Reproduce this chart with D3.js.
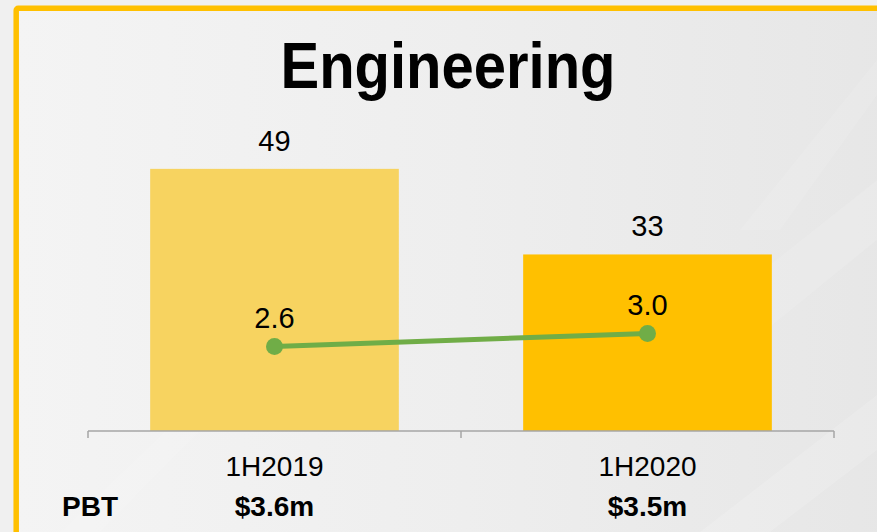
<!DOCTYPE html>
<html><head><meta charset="utf-8">
<script src="https://cdn.jsdelivr.net/npm/d3@7"></script>
<style>html,body{margin:0;padding:0;background:#F0F0F0;}svg{display:block;}</style>
</head><body>
<script>
const categories = ["1H2019", "1H2020"];
const barValues = [49, 33];
const lineValues = [2.6, 3.0];
const barLabels = ["49", "33"];
const lineLabels = ["2.6", "3.0"];
const pbtLabels = ["$3.6m", "$3.5m"];
const title = "Engineering";
const rowLabel = "PBT";

const W = 877, H = 532;
const svg = d3.select("body").append("svg").attr("width", W).attr("height", H);
const defs = svg.append("defs");
const grad = defs.append("linearGradient").attr("id", "bg").attr("x1", 0).attr("x2", 1).attr("y1", 0).attr("y2", 0);
grad.append("stop").attr("offset", 0).attr("stop-color", "#F4F4F4");
grad.append("stop").attr("offset", 0.5).attr("stop-color", "#EEEEEE");
grad.append("stop").attr("offset", 1).attr("stop-color", "#E6E6E6");

svg.append("rect").attr("width", W).attr("height", H).attr("fill", "#F0F0F0");
svg.append("rect").attr("x", 16).attr("y", 8).attr("width", W + 20).attr("height", H + 20).attr("fill", "url(#bg)");
// subtle diagonal light bands
const bands = svg.append("g").attr("fill", "#FFFFFF");
bands.append("path").attr("d", "M560,432 L877,180 L877,240 L640,432 Z").attr("opacity", 0.12);
bands.append("path").attr("d", "M700,532 L877,395 L877,450 L770,532 Z").attr("opacity", 0.15);
bands.append("path").attr("d", "M740,230 L877,60 L877,95 L780,230 Z").attr("opacity", 0.1);
bands.append("path").attr("d", "M60,532 L270,330 L300,330 L100,532 Z").attr("opacity", 0.08);

// border
svg.append("rect").attr("x", 16.2).attr("y", 8.3).attr("width", W + 20).attr("height", H + 20)
  .attr("rx", 2).attr("fill", "none").attr("stroke", "#FFC000").attr("stroke-width", 5.5);

const font = "'Liberation Sans', Arial, sans-serif";

const x = d3.scaleBand().domain(categories).range([88, 834]).paddingInner(1/3).paddingOuter(1/6);
const y = d3.scaleLinear().domain([0, 60]).range([431, 110]);
const y2 = d3.scaleLinear().domain([0, 10]).range([431, 106]);
const colors = ["#F7D360", "#FFC000"];

// title
svg.append("text").attr("transform", "translate(448,88) scale(1,1.13)")
  .attr("text-anchor", "middle").attr("font-family", font).attr("font-weight", "bold")
  .attr("font-size", 58).attr("fill", "#000").text(title);

// bars
svg.selectAll("rect.bar").data(categories).join("rect").attr("class", "bar")
  .attr("x", d => x(d)).attr("width", x.bandwidth())
  .attr("y", (d, i) => y(barValues[i])).attr("height", (d, i) => y(0) - y(barValues[i]))
  .attr("fill", (d, i) => colors[i]);

// axis
const step = x.step();
const x0 = x(categories[0]) - step * x.paddingOuter();
const bounds = d3.range(categories.length + 1).map(i => x0 + i * step);
const axis = svg.append("g").attr("stroke", "#A6A6A6").attr("stroke-width", 1.5).attr("fill", "none");
axis.append("line").attr("x1", bounds[0]).attr("x2", bounds[bounds.length - 1]).attr("y1", y(0)).attr("y2", y(0));
axis.selectAll("line.tick").data(bounds).join("line").attr("class", "tick")
  .attr("x1", d => d).attr("x2", d => d).attr("y1", y(0)).attr("y2", y(0) + 7);

const cx = d => x(d) + x.bandwidth() / 2;

// bar labels
svg.selectAll("text.bl").data(categories).join("text").attr("class", "bl")
  .attr("x", cx).attr("y", (d, i) => y(barValues[i]) - 18)
  .attr("text-anchor", "middle").attr("font-family", font).attr("font-size", 29).attr("fill", "#000")
  .text((d, i) => barLabels[i]);

// line
const line = d3.line().x((d, i) => cx(categories[i])).y(d => y2(d));
svg.append("path").datum(lineValues).attr("d", line).attr("fill", "none")
  .attr("stroke", "#70AD47").attr("stroke-width", 5);
svg.selectAll("circle.pt").data(lineValues).join("circle").attr("class", "pt")
  .attr("cx", (d, i) => cx(categories[i])).attr("cy", d => y2(d)).attr("r", 8.5).attr("fill", "#70AD47");
svg.selectAll("text.ll").data(lineValues).join("text").attr("class", "ll")
  .attr("x", (d, i) => cx(categories[i])).attr("y", d => y2(d) - 19)
  .attr("text-anchor", "middle").attr("font-family", font).attr("font-size", 29).attr("fill", "#000")
  .text((d, i) => lineLabels[i]);

// category labels
svg.selectAll("text.cat").data(categories).join("text").attr("class", "cat")
  .attr("x", cx).attr("y", 476).attr("text-anchor", "middle")
  .attr("font-family", font).attr("font-size", 28).attr("fill", "#000").text(d => d);

// PBT row
svg.append("text").attr("x", 62).attr("y", 516).attr("font-family", font).attr("font-weight", "bold")
  .attr("font-size", 28).attr("fill", "#000").text(rowLabel);
svg.selectAll("text.pbt").data(categories).join("text").attr("class", "pbt")
  .attr("x", cx).attr("y", 516).attr("text-anchor", "middle")
  .attr("font-family", font).attr("font-weight", "bold").attr("font-size", 28).attr("fill", "#000")
  .text((d, i) => pbtLabels[i]);
</script>
</body></html>
